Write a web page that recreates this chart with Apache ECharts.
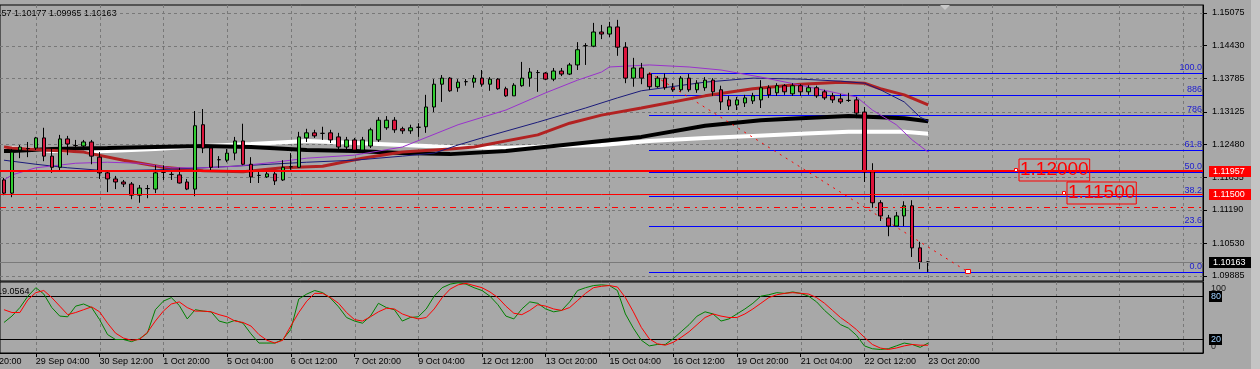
<!DOCTYPE html>
<html><head><meta charset="utf-8">
<script src="https://cdn.jsdelivr.net/npm/echarts@6/dist/echarts.min.js"></script>
<style>html,body{margin:0;padding:0;background:#a8a8a8;overflow:hidden}#c{width:1260px;height:369px}</style>
</head><body><div id="c"></div><script>
// ---------- DATA ----------
// slot 0 is the partly hidden bar at the left edge; slot k = H4 bar, last bar 23 Oct 20:00 at slot 116
const slotCount = 151;
const firstTickSlot = 4, tickStep = 8;
const xTickLabels = ['29 Sep 04:00','30 Sep 12:00','1 Oct 20:00','5 Oct 04:00','6 Oct 12:00','7 Oct 20:00','9 Oct 04:00','12 Oct 12:00','13 Oct 20:00','15 Oct 04:00','16 Oct 12:00','19 Oct 20:00','21 Oct 04:00','22 Oct 12:00','23 Oct 20:00'];
const yTicks = [1.09885,1.10530,1.11190,1.11835,1.12480,1.13125,1.13785,1.14430,1.15075];
const priceMin = 1.09786, priceMax = 1.15233;

// candles: [open, close, low, high]
const candles = [
[1.1178,1.1152,1.1148,1.1182],
[1.1152,1.1233,1.1144,1.1239],[1.1237,1.1243,1.1221,1.1247],[1.1240,1.1240,1.1223,1.1253],[1.1241,1.1261,1.1237,1.1263],
[1.1261,1.1225,1.1215,1.1281],[1.1225,1.1203,1.1192,1.1241],[1.1203,1.1259,1.1194,1.1267],[1.1259,1.1249,1.1227,1.1265],
[1.1246,1.1246,1.1237,1.1257],[1.1245,1.1253,1.1237,1.1257],[1.1253,1.1225,1.1209,1.1257],[1.1223,1.1192,1.1180,1.1233],
[1.1192,1.1180,1.1154,1.1194],[1.1180,1.1174,1.1160,1.1186],[1.1174,1.1170,1.1164,1.1178],[1.1170,1.1148,1.1140,1.1174],
[1.1148,1.1162,1.1133,1.1168],[1.1161,1.1161,1.1142,1.1168],[1.1160,1.1192,1.1152,1.1207],[1.1193,1.1193,1.1178,1.1207],
[1.1189,1.1189,1.1178,1.1196],[1.1188,1.1172,1.1171,1.1202],[1.1174,1.1160,1.1158,1.1180],[1.1160,1.1285,1.1146,1.1314],
[1.1287,1.1241,1.1231,1.1318],[1.1241,1.1203,1.1196,1.1243],[1.1218,1.1218,1.1202,1.1225],[1.1217,1.1231,1.1213,1.1239],
[1.1231,1.1255,1.1217,1.1263],[1.1255,1.1209,1.1207,1.1289],[1.1209,1.1184,1.1172,1.1223],[1.1187,1.1187,1.1172,1.1194],
[1.1184,1.1190,1.1182,1.1196],[1.1190,1.1176,1.1168,1.1194],[1.1178,1.1203,1.1176,1.1217],[1.1204,1.1204,1.1198,1.1231],
[1.1203,1.1263,1.1202,1.1273],[1.1261,1.1271,1.1253,1.1279],[1.1271,1.1265,1.1261,1.1277],[1.1270,1.1270,1.1257,1.1283],
[1.1271,1.1257,1.1251,1.1277],[1.1263,1.1243,1.1237,1.1271],[1.1243,1.1257,1.1233,1.1263],[1.1257,1.1237,1.1231,1.1261],
[1.1237,1.1257,1.1231,1.1263],[1.1245,1.1277,1.1241,1.1281],[1.1257,1.1296,1.1253,1.1302],[1.1281,1.1296,1.1277,1.1304],
[1.1296,1.1277,1.1271,1.1302],[1.1279,1.1275,1.1269,1.1283],[1.1275,1.1281,1.1269,1.1287],[1.1282,1.1282,1.1263,1.1290],
[1.1283,1.1322,1.1271,1.1346],[1.1322,1.1367,1.1312,1.1377],[1.1367,1.1379,1.1332,1.1385],[1.1379,1.1354,1.1352,1.1381],
[1.1360,1.1371,1.1352,1.1377],[1.1372,1.1372,1.1364,1.1377],[1.1371,1.1379,1.1360,1.1385],[1.1379,1.1367,1.1362,1.1395],
[1.1367,1.1377,1.1354,1.1381],[1.1377,1.1358,1.1356,1.1379],[1.1358,1.1344,1.1342,1.1362],[1.1344,1.1365,1.1344,1.1369],
[1.1364,1.1379,1.1362,1.1411],[1.1379,1.1391,1.1362,1.1399],[1.1390,1.1390,1.1352,1.1395],[1.1389,1.1377,1.1375,1.1391],
[1.1377,1.1393,1.1373,1.1399],[1.1393,1.1387,1.1383,1.1399],[1.1387,1.1405,1.1385,1.1409],[1.1405,1.1435,1.1395,1.1450],
[1.1443,1.1443,1.1405,1.1448],[1.1442,1.1470,1.1440,1.1488],[1.1470,1.1466,1.1456,1.1484],[1.1466,1.1480,1.1460,1.1490],
[1.1480,1.1440,1.1423,1.1494],[1.1440,1.1379,1.1369,1.1450],[1.1379,1.1399,1.1362,1.1419],[1.1399,1.1379,1.1367,1.1409],
[1.1387,1.1362,1.1356,1.1390],[1.1362,1.1379,1.1360,1.1383],[1.1379,1.1360,1.1356,1.1388],[1.1360,1.1356,1.1352,1.1369],
[1.1356,1.1379,1.1352,1.1383],[1.1379,1.1356,1.1352,1.1387],[1.1356,1.1369,1.1350,1.1375],[1.1360,1.1375,1.1354,1.1381],
[1.1375,1.1352,1.1344,1.1379],[1.1356,1.1332,1.1316,1.1364],[1.1336,1.1324,1.1316,1.1344],[1.1326,1.1336,1.1316,1.1342],
[1.1330,1.1340,1.1322,1.1346],[1.1334,1.1344,1.1328,1.1350],[1.1336,1.1360,1.1320,1.1375],[1.1360,1.1346,1.1340,1.1365],
[1.1350,1.1364,1.1344,1.1369],[1.1364,1.1352,1.1346,1.1367],[1.1348,1.1364,1.1344,1.1369],[1.1364,1.1352,1.1344,1.1367],
[1.1352,1.1360,1.1346,1.1365],[1.1360,1.1344,1.1340,1.1364],[1.1352,1.1340,1.1336,1.1356],[1.1344,1.1336,1.1330,1.1350],
[1.1338,1.1332,1.1328,1.1348],[1.1335,1.1335,1.1332,1.1350],[1.1336,1.1310,1.1300,1.1342],[1.1312,1.1194,1.1174,1.1322],
[1.1194,1.1133,1.1123,1.1211],[1.1133,1.1107,1.1097,1.1138],[1.1103,1.1087,1.1067,1.1109],[1.1087,1.1107,1.1087,1.1115],
[1.1107,1.1127,1.1087,1.1136],[1.1127,1.1044,1.1026,1.1138],[1.1044,1.1016,1.1002,1.1056],[1.10157,1.10163,1.09965,1.10177]
];

// moving averages, sampled [slot, price]
const maWhite = [[0,1.1241],[1,1.1241],[6,1.1235],[13,1.1235],[19,1.1239],[25,1.1245],[31,1.1249],[38,1.1255],[44,1.1251],[50,1.1247],[56,1.1243],[63,1.1241],[69,1.1245],[75,1.1247],[81,1.1255],[88,1.1261],[94,1.1265],[100,1.1269],[106,1.1273],[113,1.1273],[116,1.1269]];
const maBlack = [[0,1.1235],[1,1.1235],[6,1.1239],[13,1.1241],[19,1.1243],[25,1.1245],[31,1.1243],[38,1.1237],[44,1.1235],[50,1.1231],[56,1.1229],[63,1.1235],[69,1.1245],[75,1.1255],[80,1.1263],[88,1.1285],[95,1.1296],[100,1.1300],[106,1.1304],[113,1.1300],[116,1.1294]];
const maFirebrick = [[0,1.1243],[1,1.1241],[5,1.1237],[10,1.1233],[15,1.1217],[20,1.1203],[25,1.1196],[30,1.1194],[35,1.1202],[40,1.1205],[45,1.1221],[50,1.1233],[56,1.1239],[59,1.1243],[67,1.1267],[71,1.1290],[75,1.1306],[80,1.1320],[88,1.1344],[94,1.1358],[100,1.1367],[105,1.1371],[108,1.1369],[110,1.1358],[113,1.1346],[116,1.1326]];
const maNavy = [[0,1.1217],[1,1.1215],[4,1.1209],[8,1.1202],[13,1.1196],[19,1.1198],[25,1.1202],[31,1.1207],[38,1.1213],[44,1.1217],[50,1.1225],[54,1.1231],[57,1.1247],[60,1.1261],[67,1.1292],[73,1.1320],[77,1.1340],[80,1.1354],[88,1.1371],[94,1.1379],[100,1.1377],[105,1.1373],[108,1.1369],[110,1.1356],[113,1.1332],[115,1.1302],[116,1.1294]];
const maPurple = [[0,1.1178],[1,1.1188],[4,1.1202],[9,1.1211],[13,1.1213],[17,1.1211],[21,1.1202],[25,1.1202],[29,1.1205],[34,1.1213],[38,1.1221],[44,1.1227],[50,1.1243],[57,1.1287],[63,1.1316],[68,1.1350],[72,1.1375],[75,1.1391],[76,1.1401],[81,1.1405],[86,1.1401],[90,1.1395],[95,1.1381],[100,1.1365],[105,1.1348],[107,1.1342],[109,1.1316],[112,1.1287],[114,1.1257],[116,1.1233]];

// stochastic %K (green) and %D (red), one value per slot
const stochK = [43,52,64,80,92,83,64,52,51,66,69,64,47,26,19,19,16,20,28,61,73,78,67,48,61,59,58,45,42,46,42,27,14,14,14,19,33,76,83,88,85,77,65,50,45,42,52,70,64,61,45,50,51,
62,80,92,97,99,97,92,88,80,68,52,48,62,72,70,62,58,60,72,88,92,95,96,95,88,55,35,18,10,12,12,20,30,40,52,58,55,45,48,55,62,70,80,82,85,84,86,84,80,72,60,50,40,35,25,10,6,5,6,10,14,12,8,14];
const stochD = [61,57,57,75,85,88,78,66,54,57,61,65,58,42,28,21,18,19,29,45,59,69,72,64,59,59,58,54,51,45,43,38,26,18,14,18,38,57,73,84,84,78,70,57,47,45,51,58,63,62,55,51,48,
50,62,78,90,96,98,95,92,86,78,66,56,54,60,68,66,62,60,64,74,84,92,94,95,93,78,58,36,20,13,11,15,22,30,40,50,55,52,50,50,55,62,70,78,82,84,85,84,83,78,70,60,50,42,33,22,12,7,5,7,10,12,11,11];
const stochLevels = [20, 80];
const stochTicks = [0, 20, 80, 100];

// Fibonacci retracement (from slot 81 high to the low), level labels and prices
const fibStartSlot = 81, fibEndSlot = 121;
const fibLabels = ['100.0','886','786','61.8','50.0','38.2','23.6','0.0'];
const fibPrices = [1.1390,1.1345,1.1306,1.1238,1.1194,1.1147,1.1088,1.09965];

// horizontal lines and price tags
const hLinePrices = [1.11957, 1.11500, 1.11243, 1.10163];
const tagPrices = [1.11957, 1.11500, 1.10163];
const tagColors = ['#ff0000', '#ff0000', '#000000'];
const textBoxLabels = ['1.12000', '1.11500'];
const textBoxPrices = [1.11957, 1.11500];
const textBoxSlots = [127, 133];

// ---------- CHART ----------
const FONT = '"Liberation Sans", Arial, sans-serif';
const cats = Array.from({length: slotCount}, (_, k) => String(k));
const gridSlots = [];
for (let k = firstTickSlot; k < slotCount; k += tickStep) gridSlots.push(k);
const isTick = idx => idx >= firstTickSlot && (idx - firstTickSlot) % tickStep === 0 && (idx - firstTickSlot) / tickStep < xTickLabels.length;
const crisp = v => Math.round(v) + 0.5;

function vGrid(xi, yi) {
  return {type:'custom', xAxisIndex:xi, yAxisIndex:yi, z:1, silent:true, animation:false,
    data: gridSlots.map(k => [k, 0]),
    renderItem:(p, api) => { const cs = p.coordSys; const x = crisp(api.coord([api.value(0), 0])[0]);
      return {type:'line', shape:{x1:x, y1:cs.y, x2:x, y2:cs.y + cs.height}, style:{stroke:'#787878', lineWidth:1, lineDash:[3,3]}}; }};
}
function hLines(values, styles, z) {
  return {type:'custom', xAxisIndex:0, yAxisIndex:0, z:z, silent:true, animation:false,
    data: values.map((v, j) => [0, v, j]),
    renderItem:(p, api) => { const cs = p.coordSys; const j = api.value(2); const st = styles[j];
      let y = api.coord([0, api.value(1)])[1]; y = st.lineWidth === 2 ? Math.round(y) : crisp(y);
      return {type:'line', shape:{x1:cs.x, y1:y, x2:cs.x + cs.width, y2:y}, style:Object.assign({}, st)}; }};
}

const chart = echarts.init(document.getElementById('c'), null, {renderer:'canvas'});
const option = {
  backgroundColor:'#a8a8a8',
  animation:false,
  textStyle:{fontFamily:FONT},
  grid:[
    {left:-5, top:5, width:1208, height:276, show:true, borderColor:'#000', borderWidth:1, backgroundColor:'transparent'},
    {left:-5, top:282, width:1208, height:71, show:true, borderColor:'#000', borderWidth:1, backgroundColor:'transparent'}
  ],
  xAxis:[
    {type:'category', gridIndex:0, data:cats, boundaryGap:true, axisLine:{show:false}, axisTick:{show:false}, axisLabel:{show:false}, splitLine:{show:false}},
    {type:'category', gridIndex:1, data:cats, boundaryGap:true,
      axisLine:{show:true, lineStyle:{color:'#000'}},
      axisTick:{show:true, alignWithLabel:true, interval:(i)=>isTick(i), length:4, lineStyle:{color:'#000'}},
      axisLabel:{interval:(i)=>isTick(i), formatter:(v, i)=> isTick(i) ? xTickLabels[(i - firstTickSlot) / tickStep] : '', align:'left', margin:4, color:'#000', fontSize:9, fontFamily:FONT},
      splitLine:{show:false}}
  ],
  yAxis:[
    {type:'value', gridIndex:0, position:'right', min:priceMin, max:priceMax, scale:true,
      axisLine:{show:true, lineStyle:{color:'#000'}},
      axisTick:{show:true, customValues:yTicks, length:4, lineStyle:{color:'#000'}},
      axisLabel:{customValues:yTicks, formatter:v=>v.toFixed(5), margin:9, color:'#000', fontSize:9, fontFamily:FONT},
      splitLine:{show:false}},
    {type:'value', gridIndex:1, position:'right', min:0, max:100,
      axisLine:{show:true, lineStyle:{color:'#000'}},
      axisTick:{show:false}, axisLabel:{show:false}, splitLine:{show:false}}
  ],
  graphic:[
    {type:'rect', shape:{x:1251, y:0, width:9, height:369}, style:{fill:'#c4c4c4'}, z:0},
    {type:'polygon', shape:{points:[[940,5],[950,5],[945,10]]}, style:{fill:'#c8c8c8'}},
    {type:'text', x:-21, y:14, style:{text:'1.10157 1.10177 1.09965 1.10163', fill:'#000', font:'9px ' + FONT, verticalAlign:'middle'}},
    {type:'text', x:-3, y:292, style:{text:'19.0564', fill:'#000', font:'9px ' + FONT, verticalAlign:'middle'}},
    {type:'text', x:-32, y:357, style:{text:'25 Sep 20:00', fill:'#000', font:'9px ' + FONT, verticalAlign:'top'}}
  ],
  series:[
    vGrid(0, 0), vGrid(1, 1),
    {type:'custom', xAxisIndex:0, yAxisIndex:0, z:1, silent:true, data:yTicks.map(v=>[0,v]),
      renderItem:(p, api)=>{ const cs=p.coordSys; const y=crisp(api.coord([0, api.value(1)])[1]);
        return {type:'line', shape:{x1:cs.x, y1:y, x2:cs.x+cs.width, y2:y}, style:{stroke:'#787878', lineWidth:1, lineDash:[3,3]}}; }},
    {type:'line', xAxisIndex:0, yAxisIndex:0, data:maWhite, showSymbol:false, z:2, silent:true, lineStyle:{color:'#ffffff', width:4}},
    {type:'line', xAxisIndex:0, yAxisIndex:0, data:maBlack, showSymbol:false, z:2, silent:true, lineStyle:{color:'#000000', width:4}},
    {type:'line', xAxisIndex:0, yAxisIndex:0, data:maFirebrick, showSymbol:false, z:2, silent:true, lineStyle:{color:'#b22222', width:3}},
    {type:'line', xAxisIndex:0, yAxisIndex:0, data:maNavy, showSymbol:false, z:2, silent:true, lineStyle:{color:'#1a1a7a', width:1}},
    {type:'line', xAxisIndex:0, yAxisIndex:0, data:maPurple, showSymbol:false, z:2, silent:true, lineStyle:{color:'#9932cc', width:1}},
    // Fibonacci levels (drawn under the candles)
    {type:'custom', xAxisIndex:0, yAxisIndex:0, z:2, silent:true, data:fibPrices.map((v,j)=>[fibStartSlot, v, j]),
      renderItem:(p, api)=>{ const cs=p.coordSys; const j=api.value(2); const pt=api.coord([api.value(0), api.value(1)]);
        const y=crisp(pt[1]); const xr=cs.x+cs.width;
        return {type:'group', children:[
          {type:'line', shape:{x1:Math.round(pt[0]), y1:y, x2:xr, y2:y}, style:{stroke:'#0000ff', lineWidth:1}},
          {type:'text', style:{text:fibLabels[j], x:xr-1, y:y-1, align:'right', verticalAlign:'bottom', fill:'#1c1cd0', font:'9px ' + FONT}}
        ]}; }},
    {type:'candlestick', xAxisIndex:0, yAxisIndex:0, data:candles, barWidth:4, z:3, silent:true,
      itemStyle:{color:'#32cd32', color0:'#dc143c', borderColor:'#000', borderColor0:'#000', borderColorDoji:'#000', borderWidth:1}},
    hLines(hLinePrices, [
      {stroke:'#ff0000', lineWidth:2},
      {stroke:'#ff0000', lineWidth:1},
      {stroke:'#ff0000', lineWidth:1, lineDash:[6,5,2,5]},
      {stroke:'#7a7a7a', lineWidth:1}
    ], 4),
    // Fibonacci diagonal
    {type:'custom', xAxisIndex:0, yAxisIndex:0, z:4, silent:true, data:[[fibStartSlot, fibPrices[0], fibEndSlot, fibPrices[fibPrices.length-1]]],
      renderItem:(p, api)=>{ const a=api.coord([api.value(0), api.value(1)]); const b=api.coord([api.value(2), api.value(3)]);
        return {type:'group', children:[
          {type:'line', shape:{x1:a[0], y1:a[1], x2:b[0], y2:b[1]}, style:{stroke:'#ff0000', lineWidth:1, lineDash:[2,5]}},
          {type:'rect', shape:{x:Math.round(b[0])-2.5, y:Math.round(b[1])-2.5, width:5, height:4}, style:{fill:'#ffffff', stroke:'#ff0000', lineWidth:1}}
        ]}; }},
    // text objects
    {type:'custom', xAxisIndex:0, yAxisIndex:0, z:5, silent:true, data:textBoxPrices.map((v,j)=>[textBoxSlots[j], v, j]),
      renderItem:(p, api)=>{ const j=api.value(2); const pt=api.coord([api.value(0), api.value(1)]);
        const x=Math.round(pt[0]), y=Math.round(pt[1]);
        return {type:'group', children:[
          {type:'rect', shape:{x:x-1.5, y:y-2.5, width:3, height:3}, style:{fill:'#ffffff', stroke:'#ff0000', lineWidth:1}},
          {type:'text', style:{text:textBoxLabels[j], x:x+3, y:y-1, align:'left', verticalAlign:'middle', fill:'#ff0000',
            font:'19px ' + FONT, borderColor:'#ff0000', borderWidth:1, padding:[2,1,1,1]}}
        ]}; }},
    // price tags on the axis
    {type:'custom', xAxisIndex:0, yAxisIndex:0, z:10, silent:true, data:tagPrices.map((v,j)=>[0, v, j]),
      renderItem:(p, api)=>{ const cs=p.coordSys; const j=api.value(2); const v=api.value(1);
        const y=Math.round(api.coord([0, v])[1]); const xr=cs.x+cs.width;
        return {type:'group', children:[
          {type:'rect', shape:{x:xr+6, y:y-5, width:42, height:11}, style:{fill:tagColors[j]}},
          {type:'text', style:{text:v.toFixed(5), x:xr+10, y:y+0.5, verticalAlign:'middle', fill:'#ffffff', font:'9px ' + FONT}}
        ]}; }},
    // stochastic scale labels (100 / 80 / 20 / 0)
    {type:'custom', xAxisIndex:1, yAxisIndex:1, z:10, silent:true, data:stochTicks.map(v=>[0, v]),
      renderItem:(p, api)=>{ const cs=p.coordSys; const v=api.value(1); const y=Math.round(api.coord([0, v])[1]); const xr=cs.x+cs.width;
        const boxed = stochLevels.indexOf(v) >= 0;
        const ty = v === 100 ? y + 7 : v === 0 ? y - 6 : y + 0.5;
        const kids = [];
        if (boxed) kids.push({type:'rect', shape:{x:xr+6, y:y-5, width:13, height:11}, style:{fill:'#000'}});
        kids.push({type:'text', style:{text:String(v), x:xr+8, y:ty, verticalAlign:'middle', fill: boxed ? '#9fd0ff' : '#1a1a1a', font:'9px ' + FONT}});
        return {type:'group', children:kids}; }},
    // stochastic
    {type:'custom', xAxisIndex:1, yAxisIndex:1, z:2, silent:true, data:stochLevels.map(v=>[0,v]),
      renderItem:(p, api)=>{ const cs=p.coordSys; const y=crisp(api.coord([0, api.value(1)])[1]);
        return {type:'line', shape:{x1:cs.x, y1:y, x2:cs.x+cs.width, y2:y}, style:{stroke:'#000', lineWidth:1}}; }},
    {type:'line', xAxisIndex:1, yAxisIndex:1, data:stochK, showSymbol:false, z:3, silent:true, lineStyle:{color:'#008000', width:1}},
    {type:'line', xAxisIndex:1, yAxisIndex:1, data:stochD, showSymbol:false, z:3, silent:true, lineStyle:{color:'#ff0000', width:1}}
  ]
};
chart.setOption(option);
</script></body></html>
